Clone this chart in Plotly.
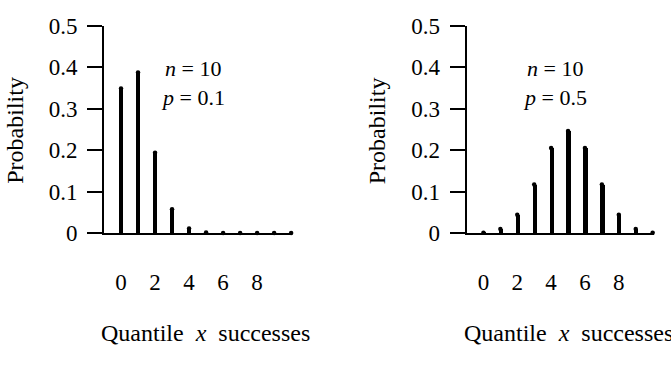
import plotly.graph_objects as go

x_vals = [0, 1, 2, 3, 4, 5, 6, 7, 8, 9, 10]
p_left = [0.3487, 0.3874, 0.1937, 0.0574, 0.0112, 0.0015, 0.0001, 0.0, 0.0, 0.0, 0.0]
p_right = [0.0010, 0.0098, 0.0439, 0.1172, 0.2051, 0.2461, 0.2051, 0.1172, 0.0439, 0.0098, 0.0010]
y_ticks = [0, 0.1, 0.2, 0.3, 0.4, 0.5]
y_ticktext = ["0", "0.1", "0.2", "0.3", "0.4", "0.5"]
x_ticks = [0, 2, 4, 6, 8]
labels_left = ["<i>n</i> = 10", "<i>p</i> = 0.1"]
labels_right = ["<i>n</i> = 10", "<i>p</i> = 0.5"]

FONT = "Liberation Serif"
W, H = 671, 365

fig = go.Figure()
for vals, xa, ya in [(p_left, "x", "y"), (p_right, "x2", "y2")]:
    fig.add_trace(go.Bar(x=x_vals, y=vals, width=0.25, marker=dict(color="black", line=dict(width=0)),
                         xaxis=xa, yaxis=ya, showlegend=False))
    fig.add_trace(go.Scatter(x=x_vals, y=vals, mode="markers", marker=dict(color="black", size=4.5),
                             cliponaxis=False, xaxis=xa, yaxis=ya, showlegend=False))

def px_x(p):
    return p / W

def px_y(p):
    return 1 - p / H

ydom = [px_y(237.3), px_y(14.7)]
common_y = dict(range=[0, 0.5], domain=ydom, tickvals=y_ticks, ticktext=y_ticktext,
                showline=True, linewidth=2, linecolor="black", ticks="outside", ticklen=15,
                tickwidth=2, tickcolor="black", showgrid=False, zeroline=False,
                ticklabelstandoff=5, tickfont=dict(size=23, color="black", family=FONT))
common_x = dict(range=[-1, 10.05], tickvals=x_ticks, showline=True, linewidth=2, linecolor="black",
                ticks="", showgrid=False, zeroline=False, ticklabelstandoff=27,
                tickfont=dict(size=23, color="black", family=FONT))

fig.update_layout(
    width=W, height=H, margin=dict(l=0, r=0, t=0, b=0),
    paper_bgcolor="white", plot_bgcolor="white",
    font=dict(family=FONT, color="black", size=22),
    bargap=0,
    xaxis=dict(domain=[px_x(104), px_x(292)], anchor="y", **common_x),
    yaxis=dict(anchor="x", **common_y),
    xaxis2=dict(domain=[px_x(466.5), px_x(653.5)], anchor="y2", **common_x),
    yaxis2=dict(anchor="x2", **common_y),
)

annots = []
for cx, labels, ytx, xtx in [(193, labels_left, 15, 205), (555, labels_right, 376.5, 568)]:
    annots.append(dict(x=px_x(cx), y=px_y(61), xref="paper", yref="paper", text=labels[0],
                       showarrow=False, xanchor="center", yanchor="middle", font=dict(size=22, family=FONT)))
    annots.append(dict(x=px_x(cx), y=px_y(92), xref="paper", yref="paper", text=labels[1],
                       showarrow=False, xanchor="center", yanchor="middle", font=dict(size=22, family=FONT)))
    annots.append(dict(x=px_x(ytx), y=px_y(127.5), xref="paper", yref="paper", text="Probability",
                       textangle=-90, showarrow=False, xanchor="center", yanchor="middle",
                       font=dict(size=24, family=FONT)))
    annots.append(dict(x=px_x(xtx), y=px_y(345), xref="paper", yref="paper",
                       text="Quantile\u00a0 <i>x</i> \u00a0successes",
                       showarrow=False, xanchor="center", yanchor="middle", font=dict(size=24, family=FONT)))
fig.update_layout(annotations=annots)

fig.write_html("out.html")
